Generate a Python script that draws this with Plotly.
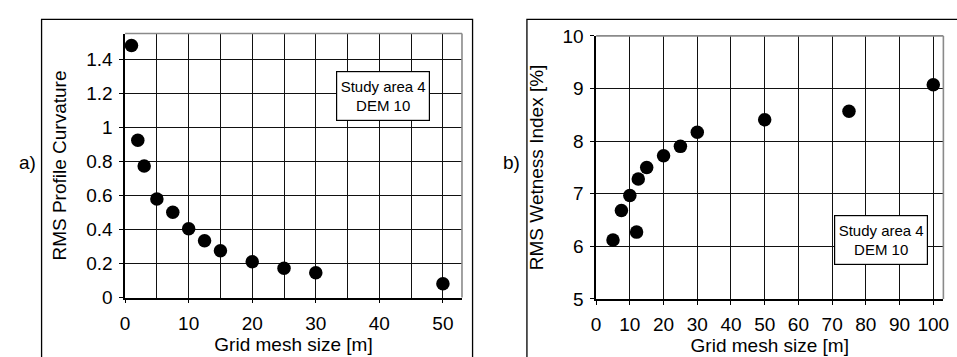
import plotly.graph_objects as go

# ---- data ----
mesh_a = [1, 2, 3, 5, 7.5, 10, 12.5, 15, 20, 25, 30, 50]
curv_a = [1.483, 0.925, 0.774, 0.58, 0.502, 0.404, 0.334, 0.275, 0.211, 0.172, 0.146, 0.081]

mesh_b = [5, 7.5, 10, 12.5, 12, 15, 20, 25, 30, 50, 75, 100]
wet_b = [6.12, 6.68, 6.965, 7.28, 6.27, 7.50, 7.72, 7.90, 8.17, 8.405, 8.566, 9.07]

box_text = "Study area 4<br>DEM 10"
xtitle = "Grid mesh size [m]"
ytitle_a = "RMS Profile Curvature"
ytitle_b = "RMS Wetness Index [%]"

W, H = 957, 357
FONT = "Liberation Sans, Arial, sans-serif"
GRID = "#111111"
FS = 19

def px(x):
    return x / W

def py(y):
    return 1 - y / H

fig = go.Figure()
marker = dict(color="black", size=13.5, line=dict(width=0))
fig.add_trace(go.Scatter(x=mesh_a, y=curv_a, mode="markers", marker=marker,
                         xaxis="x", yaxis="y", cliponaxis=False, showlegend=False))
fig.add_trace(go.Scatter(x=mesh_b, y=wet_b, mode="markers", marker=marker,
                         xaxis="x2", yaxis="y2", cliponaxis=False, showlegend=False))

common = dict(showline=True, linecolor="black", linewidth=1.5, ticks="outside",
              ticklen=4, tickwidth=1.3, tickcolor="black", showgrid=True,
              gridcolor=GRID, gridwidth=1.4, zeroline=False,
              tickfont=dict(size=FS, color="black", family=FONT))

fig.update_layout(
    width=W, height=H, margin=dict(l=0, r=0, t=0, b=0),
    paper_bgcolor="white", plot_bgcolor="white",
    font=dict(family=FONT, color="black", size=FS),
    xaxis=dict(domain=[px(121.5), px(462.3)], anchor="y", range=[0, 53], dtick=10, tick0=0,
               ticklabelstandoff=4,
               minor=dict(dtick=5, showgrid=True, gridcolor=GRID, gridwidth=1.4, ticks=""),
               title=dict(text=xtitle, standoff=2, font=dict(size=FS)), **common),
    yaxis=dict(domain=[py(305.5), py(25)], anchor="x", range=[0, 1.553], dtick=0.2, tick0=0,
               ticklabelstandoff=3,
               title=dict(text=ytitle_a, standoff=14, font=dict(size=FS)), **common),
    xaxis2=dict(domain=[px(598), px(949.3)], anchor="y2", range=[0, 103], dtick=10, tick0=0,
                ticklabelstandoff=4,
                title=dict(text=xtitle, standoff=2, font=dict(size=FS)), **common),
    yaxis2=dict(domain=[py(307), py(27.5)], anchor="x2", range=[5, 10], dtick=1, tick0=5,
                ticklabelstandoff=3,
                title=dict(text=ytitle_b, standoff=14, font=dict(size=FS)), **common),
)

shapes = []
# outer panel frames
shapes.append(dict(type="rect", xref="paper", yref="paper", x0=px(37), x1=px(473),
                   y0=-0.2, y1=py(10), line=dict(color="black", width=1.3)))
shapes.append(dict(type="rect", xref="paper", yref="paper", x0=px(528), x1=1.2,
                   y0=-0.2, y1=py(10), line=dict(color="black", width=1.3)))
# grey top/right plot borders
for xa, ya in (("x", "y"), ("x2", "y2")):
    shapes.append(dict(type="line", xref=f"{xa} domain", yref=f"{ya} domain",
                       x0=0, x1=1, y0=1, y1=1, line=dict(color="#8a8a8a", width=1.6)))
    shapes.append(dict(type="line", xref=f"{xa} domain", yref=f"{ya} domain",
                       x0=1, x1=1, y0=0, y1=1, line=dict(color="#8a8a8a", width=1.6)))
fig.update_layout(shapes=shapes)

ann = []
for cx, cy in ((382.5, 91.2), (885.7, 244.7)):
    ann.append(dict(text=box_text, xref="paper", yref="paper", x=px(cx), y=py(cy),
                    xanchor="center", yanchor="middle", showarrow=False,
                    font=dict(size=15, color="black", family=FONT),
                    bordercolor="black", borderwidth=1.2, borderpad=3, bgcolor="white",
                    width=86, height=42))
ann.append(dict(text="a)", xref="paper", yref="paper", x=px(22.5), y=py(162),
                xanchor="center", yanchor="middle", showarrow=False,
                font=dict(size=FS, color="black", family=FONT)))
ann.append(dict(text="b)", xref="paper", yref="paper", x=px(512), y=py(162),
                xanchor="center", yanchor="middle", showarrow=False,
                font=dict(size=FS, color="black", family=FONT)))
fig.update_layout(annotations=ann)

fig.write_html("out.html")
